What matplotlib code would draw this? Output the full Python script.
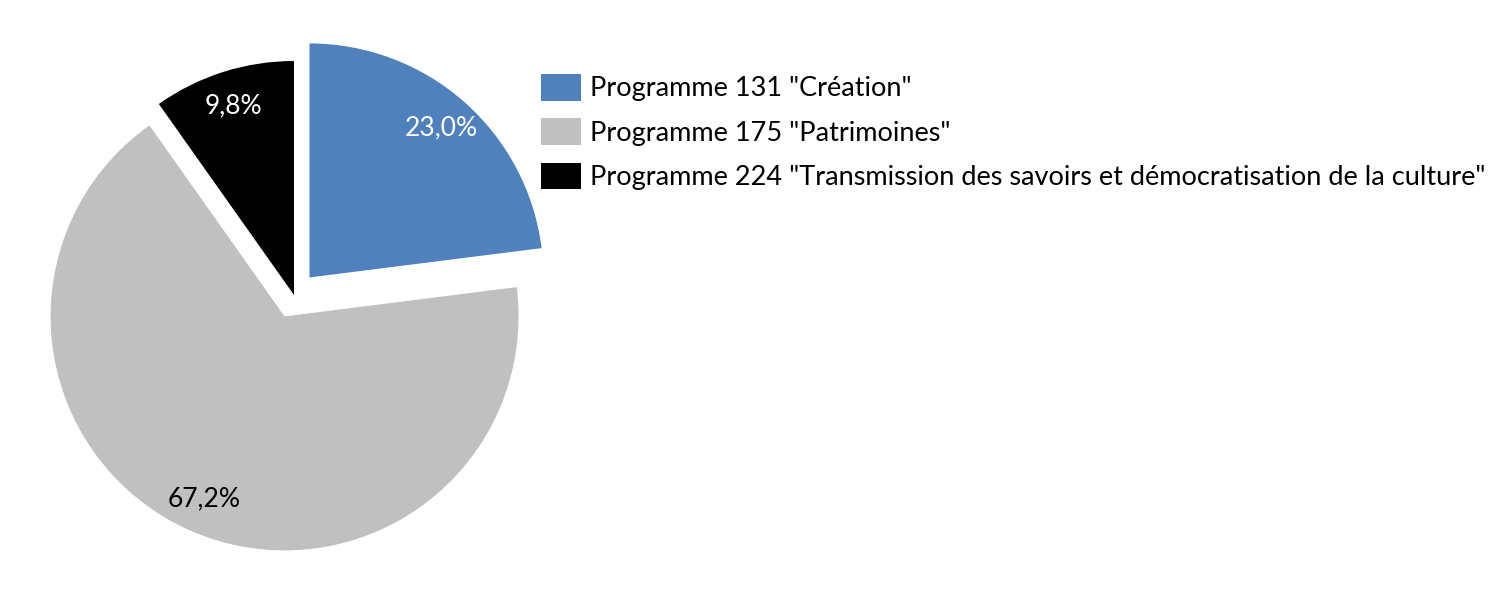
import matplotlib.pyplot as plt

labels = ['Programme 131 "Création"',
          'Programme 175 "Patrimoines"',
          'Programme 224 "Transmission des savoirs et démocratisation de la culture"']
values = [23.0, 67.2, 9.8]
colors = ['#4F81BD', '#C0C0C0', '#000000']
text_colors = ['white', 'black', 'white']
explode_frac = [0.1, 0.1, 0.0]

plt.rcParams['font.family'] = ['Lato', 'DejaVu Sans']

fig = plt.figure(figsize=(15.02, 5.9), dpi=100)
ax = fig.add_axes([0, 0, 1, 1])

radius = 234
# matplotlib's explode is in data units, so scale it by the radius
wedges, texts, autotexts = ax.pie(
    values, colors=colors, explode=[e * radius for e in explode_frac],
    startangle=90, counterclock=False,
    center=(294, 295), radius=radius, frame=True,
    autopct=lambda p: '{:.1f}%'.format(p).replace('.', ','), pctdistance=0.85,
    textprops={'fontsize': 19})
ax.set_xlim(0, 1502)
ax.set_ylim(0, 590)
ax.set_aspect('equal')
ax.axis('off')
for t, c in zip(autotexts, text_colors):
    t.set_color(c)

ax.legend(wedges, labels, loc='upper left', bbox_to_anchor=(538 / 1502, 1 - 71 / 590),
          frameon=False, fontsize=19.5, handlelength=1.5, handleheight=1.15,
          handletextpad=0.33, labelspacing=0.62, borderaxespad=0, borderpad=0.1)

fig.savefig('out.png', dpi=100)
